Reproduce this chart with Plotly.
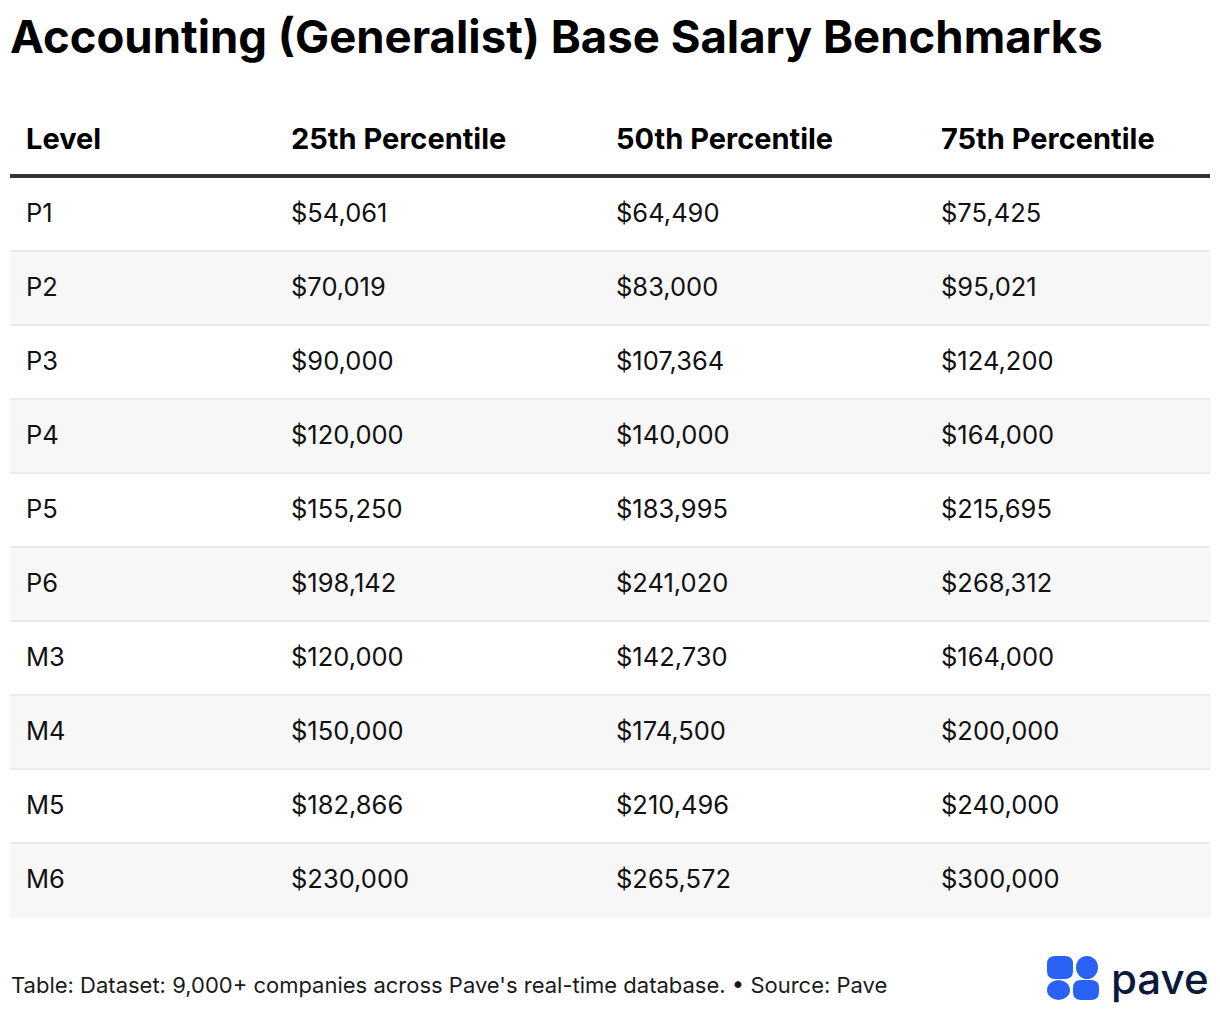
import plotly.graph_objects as go

# page (window) size and the 8px body margin of the generated html page
PAGE_W, PAGE_H = 1220, 1010
OFF = 8
FW, FH = PAGE_W - OFF, PAGE_H - OFF

# ---------------- data ----------------
levels = ["P1", "P2", "P3", "P4", "P5", "P6", "M3", "M4", "M5", "M6"]
p25 = [54061, 70019, 90000, 120000, 155250, 198142, 120000, 150000, 182866, 230000]
p50 = [64490, 83000, 107364, 140000, 183995, 241020, 142730, 174500, 210496, 265572]
p75 = [75425, 95021, 124200, 164000, 215695, 268312, 164000, 200000, 240000, 300000]
headers = ["Level", "25th Percentile", "50th Percentile", "75th Percentile"]

title_text = "Accounting (Generalist) Base Salary Benchmarks"
footer_text = "Table: Dataset: 9,000+ companies across Pave's real-time database. • Source: Pave"
brand_text = "pave"

# ---------------- layout constants ----------------
FONT = "Inter"
TABLE_L, TABLE_R = 10, 1210
TABLE_TOP = 105
HEADER_H = 72
ROW_H = 74
COL_W = [8, 265, 325, 325, 277]      # spacer + 4 columns (px)
DY_HEAD = 14                          # vertical text shift for header
DY_CELL = 18                          # vertical text shift for body cells
LOGO_BLUE = "#2962F5"


def money(v):
    return f"${v:,}"


def px_x(px):
    return (px - OFF) / FW


def px_y(py):
    return 1 - (py - OFF) / FH


n = len(levels)
row_fills = ["#ffffff" if i % 2 == 0 else "#f7f7f7" for i in range(n)]
table_bottom = TABLE_TOP + HEADER_H + n * ROW_H

# background table: fills only
bg = go.Table(
    domain=dict(x=[px_x(TABLE_L), px_x(TABLE_R)],
                y=[px_y(table_bottom + 30), px_y(TABLE_TOP)]),
    columnwidth=COL_W,
    header=dict(values=[""] * 5, fill_color="white",
                line=dict(color="white", width=1), height=HEADER_H),
    cells=dict(values=[[""] * n] * 5, fill_color=[row_fills] * 5,
               line=dict(color=[row_fills] * 5, width=1), height=ROW_H),
)

# text table
fg_top = TABLE_TOP + DY_HEAD
fg = go.Table(
    domain=dict(x=[px_x(TABLE_L), px_x(TABLE_R)],
                y=[px_y(table_bottom + DY_CELL + 30), px_y(fg_top)]),
    columnwidth=COL_W,
    header=dict(values=[""] + headers, align="left",
                fill_color="rgba(0,0,0,0)",
                line=dict(color="rgba(0,0,0,0)", width=0),
                font=dict(family=FONT, size=29, color="#000000", weight=700),
                height=HEADER_H + DY_CELL - DY_HEAD),
    cells=dict(values=[[""] * n, levels,
                       [money(v) for v in p25],
                       [money(v) for v in p50],
                       [money(v) for v in p75]],
               align="left",
               fill_color="rgba(0,0,0,0)",
               line=dict(color="rgba(0,0,0,0)", width=0),
               font=dict(family=FONT, size=25.5, color="#111111"),
               height=ROW_H),
)

fig = go.Figure([bg, fg])

shapes = []
# thick header rule
hy = TABLE_TOP + HEADER_H - 1
shapes.append(dict(type="line", xref="paper", yref="paper",
                   x0=px_x(TABLE_L), x1=px_x(TABLE_R), y0=px_y(hy), y1=px_y(hy),
                   line=dict(color="#333333", width=4)))
# row separators
for i in range(1, n):
    sy = TABLE_TOP + HEADER_H + i * ROW_H
    shapes.append(dict(type="line", xref="paper", yref="paper",
                       x0=px_x(TABLE_L), x1=px_x(TABLE_R), y0=px_y(sy), y1=px_y(sy),
                       line=dict(color="#e6e6e6", width=1.5)))


def rrect(x0, y0, x1, y1, r):
    X = px_x
    Y = px_y
    return (f"M {X(x0 + r)} {Y(y0)} L {X(x1 - r)} {Y(y0)} Q {X(x1)} {Y(y0)} {X(x1)} {Y(y0 + r)} "
            f"L {X(x1)} {Y(y1 - r)} Q {X(x1)} {Y(y1)} {X(x1 - r)} {Y(y1)} "
            f"L {X(x0 + r)} {Y(y1)} Q {X(x0)} {Y(y1)} {X(x0)} {Y(y1 - r)} "
            f"L {X(x0)} {Y(y0 + r)} Q {X(x0)} {Y(y0)} {X(x0 + r)} {Y(y0)} Z")


shapes.append(dict(type="path", xref="paper", yref="paper", path=rrect(1047, 956, 1073, 979, 8),
                   fillcolor=LOGO_BLUE, line=dict(width=0)))
shapes.append(dict(type="path", xref="paper", yref="paper", path=rrect(1073, 980, 1099, 1000, 8),
                   fillcolor=LOGO_BLUE, line=dict(width=0)))
shapes.append(dict(type="circle", xref="paper", yref="paper",
                   x0=px_x(1076), x1=px_x(1098), y0=px_y(979), y1=px_y(956),
                   fillcolor=LOGO_BLUE, line=dict(width=0)))
shapes.append(dict(type="circle", xref="paper", yref="paper",
                   x0=px_x(1047), x1=px_x(1070), y0=px_y(1000), y1=px_y(980),
                   fillcolor=LOGO_BLUE, line=dict(width=0)))

annotations = [
    dict(text=title_text, xref="paper", yref="paper", x=px_x(8), y=px_y(37),
         xanchor="left", yanchor="middle", showarrow=False,
         font=dict(family=FONT, size=45.5, color="#000000", weight=700)),
    dict(text=footer_text, xref="paper", yref="paper", x=px_x(8.5), y=px_y(985),
         xanchor="left", yanchor="middle", showarrow=False,
         font=dict(family=FONT, size=22, color="#1a1a1a")),
    dict(text=brand_text, xref="paper", yref="paper", x=px_x(1211), y=px_y(978),
         xanchor="right", yanchor="middle", showarrow=False,
         font=dict(family=FONT, size=42, color="#0b1a3c", weight=500)),
]

fig.update_layout(
    width=FW, height=FH,
    margin=dict(l=0, r=0, t=0, b=0, pad=0),
    paper_bgcolor="white", plot_bgcolor="white",
    shapes=shapes, annotations=annotations,
    showlegend=False,
)

fig.write_html("out.html")
